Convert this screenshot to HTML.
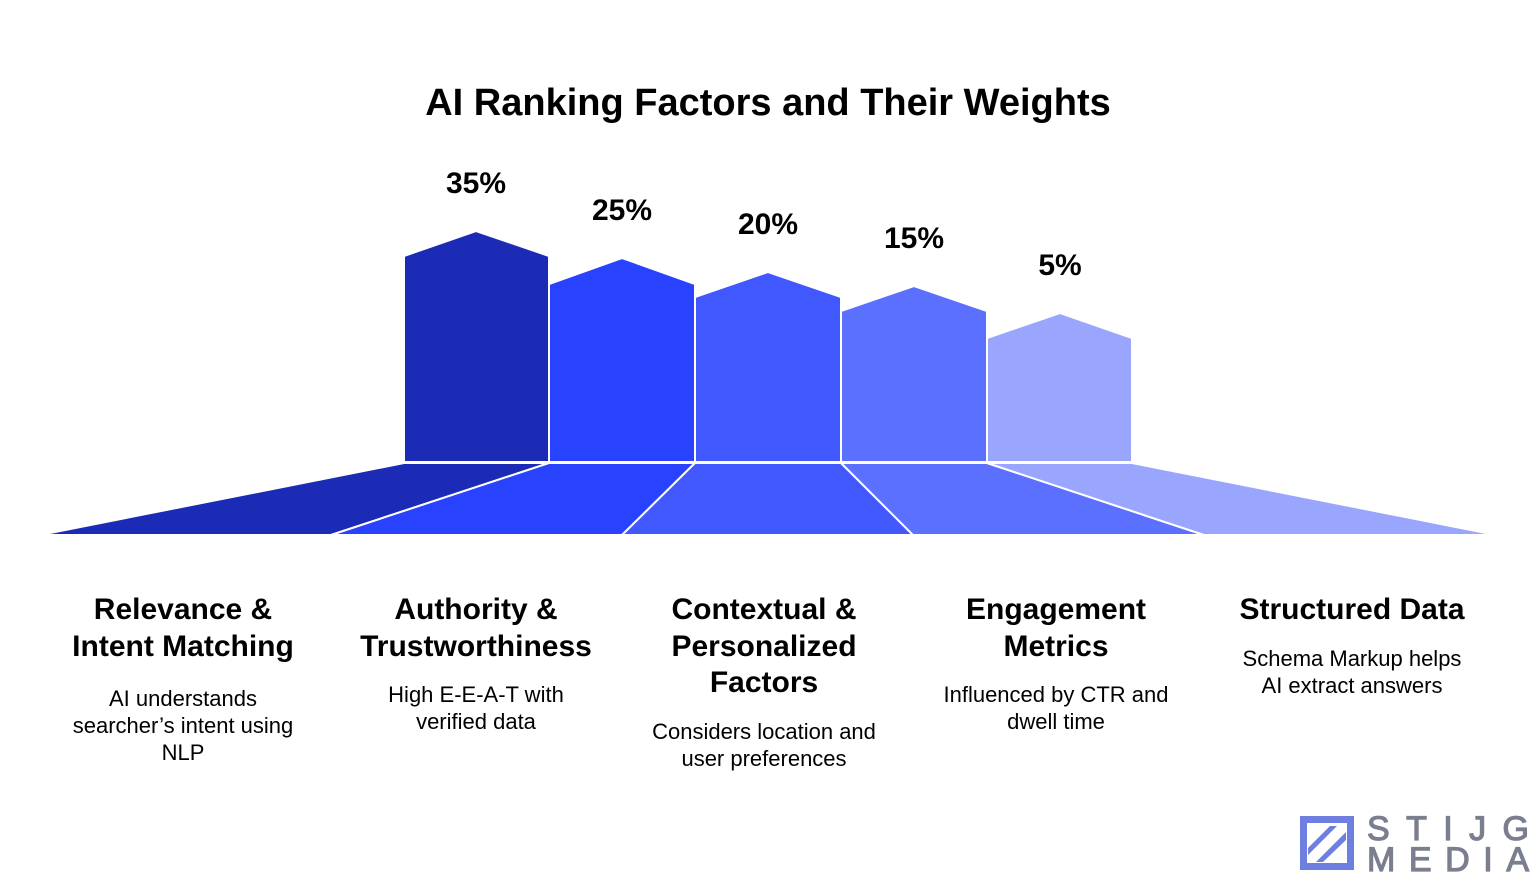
<!DOCTYPE html>
<html><head><meta charset="utf-8"><style>
html,body{margin:0;padding:0;background:#fff;}
body{width:1536px;height:884px;position:relative;overflow:hidden;font-family:"Liberation Sans",Arial,sans-serif;color:#000;}
.t{position:absolute;text-align:center;}
h1{position:absolute;left:0;width:1536px;top:82px;margin:0;text-align:center;font-size:38px;font-weight:bold;}
.p{position:absolute;width:120px;text-align:center;font-size:30px;font-weight:bold;}
.h{font-weight:bold;font-size:30px;line-height:36.5px;}
.d{font-size:22px;line-height:27px;margin-top:20px;}
</style></head><body>
<h1>AI Ranking Factors and Their Weights</h1>
<div class="p" style="left:416px;top:167px">35%</div>
<div class="p" style="left:562px;top:194px">25%</div>
<div class="p" style="left:708px;top:208px">20%</div>
<div class="p" style="left:854px;top:222px">15%</div>
<div class="p" style="left:1000px;top:249px">5%</div>
<svg width="1536" height="884" style="position:absolute;left:0;top:0">
<g stroke="#fff" stroke-width="2" stroke-linejoin="bevel">
<polygon fill="#1b2bb5" points="404,462 404,256 476,231 549,256 549,462"/>
<polygon fill="#2842fd" points="549,462 549,284 622,258 695,284 695,462"/>
<polygon fill="#4058fe" points="695,462 695,297 768,272 841,297 841,462"/>
<polygon fill="#5b70fe" points="841,462 841,311 914,286 987,311 987,462"/>
<polygon fill="#9aa6fd" points="987,462 987,338 1060,313 1132,338 1132,462"/>
</g>
<g stroke="#fff" stroke-width="2">
<polygon fill="#1b2bb5" points="404,463 549,463 331,535 40,535" />
<polygon fill="#2842fd" points="549,463 695,463 622,535 331,535"/>
<polygon fill="#4058fe" points="695,463 841,463 913,535 622,535"/>
<polygon fill="#5b70fe" points="841,463 987,463 1204,535 913,535"/>
<polygon fill="#9aa6fd" points="987,463 1132,463 1496,535 1204,535"/>
</g>
<rect x="0" y="535" width="1536" height="4" fill="#fff"/>
<g>
<rect x="1300" y="816" width="54" height="54" fill="#6f7fe0"/>
<rect x="1307" y="823" width="40" height="40" fill="#fff"/>
<polygon points="1308,848 1330,826 1337,826 1308,855" fill="#6f7fe0"/>
<polygon points="1316,862 1346,832 1346,840 1323,862" fill="#6f7fe0"/>
</g>
<text x="1367" y="840" font-family="Liberation Sans" font-size="34" fill="#7a7f8f" stroke="#7a7f8f" stroke-width="1.2" textLength="162" lengthAdjust="spacing">STIJG</text>
<text x="1367" y="871" font-family="Liberation Sans" font-size="34" fill="#7a7f8f" stroke="#7a7f8f" stroke-width="1.2" textLength="162" lengthAdjust="spacing">MEDIA</text>
</svg>
<div class="t" style="left:33px;width:300px;top:592px"><div class="h">Relevance &amp;<br>Intent Matching</div><div class="d">AI understands<br>searcher’s intent using<br>NLP</div></div>
<div class="t" style="left:326px;width:300px;top:592px"><div class="h">Authority &amp;<br>Trustworthiness</div><div class="d" style="margin-top:16px">High E-E-A-T with<br>verified data</div></div>
<div class="t" style="left:614px;width:300px;top:592px"><div class="h">Contextual &amp;<br>Personalized<br>Factors</div><div class="d" style="margin-top:16px">Considers location and<br>user preferences</div></div>
<div class="t" style="left:906px;width:300px;top:592px"><div class="h">Engagement<br>Metrics</div><div class="d" style="margin-top:16px">Influenced by CTR and<br>dwell time</div></div>
<div class="t" style="left:1192px;width:320px;top:592px"><div class="h">Structured Data</div><div class="d" style="margin-top:16px">Schema Markup helps<br>AI extract answers</div></div>
</body></html>
